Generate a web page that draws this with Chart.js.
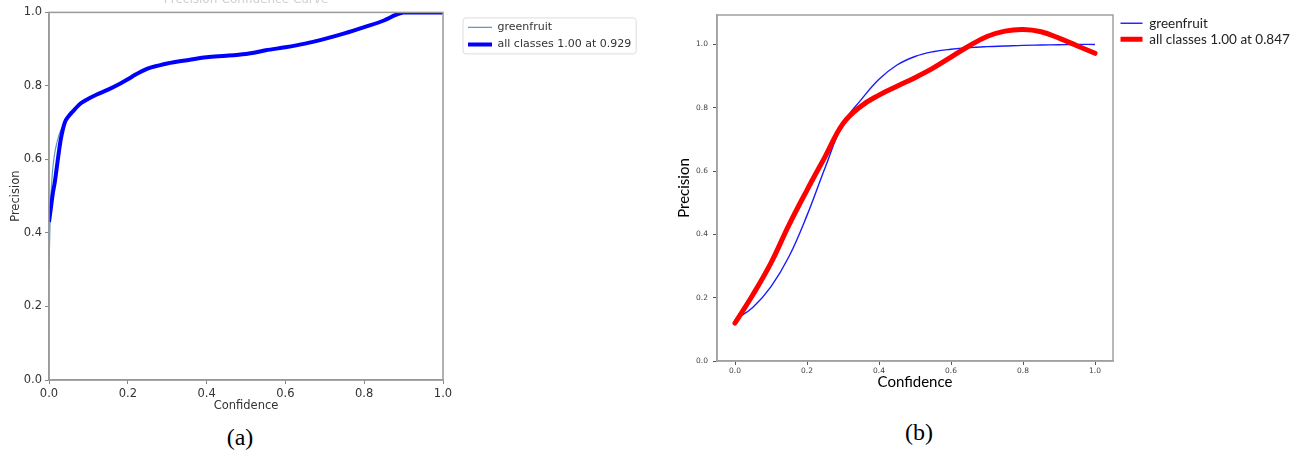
<!DOCTYPE html>
<html>
<head>
<meta charset="utf-8">
<script src="https://cdn.jsdelivr.net/npm/chart.js@4.4.0/dist/chart.umd.min.js"></script>
<style>
  body { margin: 0; background: #fff; width: 1303px; height: 450px; overflow: hidden; position: relative; }
  #wrapA { position: absolute; left: 0; top: -16px; width: 650px; height: 426px; }
  #wrapB { position: absolute; left: 660px; top: 0; width: 643px; height: 400px; }
  .cap { position: absolute; font-family: "Liberation Serif", serif; font-size: 24px; color: #000; transform: translate(-50%, -50%); }
</style>
</head>
<body>
<div id="wrapA"><canvas id="chartA" width="650" height="426"></canvas></div>
<div id="wrapB"><canvas id="chartB" width="643" height="400"></canvas></div>
<div class="cap" style="left:240px; top:437px">(a)</div>
<div class="cap" style="left:919px; top:432px">(b)</div>

<script>
// ---- panel (a) ----
var confA = [0, 0.005, 0.01, 0.015, 0.02, 0.025, 0.03, 0.04, 0.05, 0.06, 0.08, 0.1, 0.12, 0.15, 0.18, 0.2,
             0.22, 0.25, 0.28, 0.3, 0.35, 0.4, 0.45, 0.5, 0.52, 0.55, 0.6, 0.65, 0.7, 0.75, 0.8, 0.85,
             0.88, 0.9, 0.91, 0.95, 1.0];
var precA = [0.43, 0.47, 0.51, 0.54, 0.58, 0.62, 0.655, 0.70, 0.718, 0.73, 0.752, 0.765, 0.776, 0.79, 0.806, 0.818,
             0.831, 0.847, 0.856, 0.861, 0.87, 0.878, 0.882, 0.887, 0.89, 0.897, 0.905, 0.915, 0.928, 0.943, 0.96, 0.978,
             0.993, 1.0, 1.0, 1.0, 1.0];
// greenfruit only departs from "all classes" at very low confidence
var greenHeadConfA = [0, 0.002, 0.004, 0.007, 0.01, 0.015, 0.02, 0.025, 0.03, 0.04];
var greenHeadPrecA = [0.30, 0.40, 0.48, 0.54, 0.58, 0.62, 0.645, 0.665, 0.68, 0.70];
var ticksA = [0, 0.2, 0.4, 0.6, 0.8, 1.0];

// ---- panel (b) ----
var confB = [0, 0.05, 0.1, 0.15, 0.2, 0.25, 0.3, 0.35, 0.4, 0.45, 0.5, 0.55, 0.6, 0.65, 0.7, 0.75, 0.8, 0.85, 0.9, 0.95, 1.0];
var greenB = [0.13, 0.17, 0.235, 0.33, 0.46, 0.61, 0.75, 0.825, 0.89, 0.935, 0.962, 0.977, 0.985, 0.99, 0.993, 0.995, 0.997, 0.998, 0.999, 1.0, 1.0];
var allB = [0.12, 0.21, 0.31, 0.43, 0.54, 0.645, 0.75, 0.805, 0.84, 0.868, 0.895, 0.925, 0.96, 0.995, 1.025, 1.042, 1.047, 1.04, 1.02, 0.996, 0.972];
var ticksBx = [0, 0.2, 0.4, 0.6, 0.8, 1.0];
var ticksBy = [0, 0.2, 0.4, 0.6, 0.8, 1.0];

function pts(xs, ys) {
  return xs.map(function (x, i) { return { x: x, y: ys[i] }; });
}

var allA = pts(confA, precA);
var greenA = pts(greenHeadConfA, greenHeadPrecA).concat(allA.filter(function (p) { return p.x > 0.04; }));

// box round the plot, like matplotlib spines
var framePlugin = {
  id: 'frame',
  afterDatasetsDraw: function (chart, args, opts) {
    var a = chart.chartArea, ctx = chart.ctx;
    ctx.save();
    ctx.strokeStyle = opts.color;
    ctx.lineWidth = opts.width;
    ctx.strokeRect(a.left, a.top, a.right - a.left, a.bottom - a.top);
    ctx.restore();
  }
};

// nudge the legend, widen its clip and optionally draw a frame round it
var legendPlace = {
  id: 'legendPlace',
  afterLayout: function (chart, args, opts) {
    var l = chart.legend;
    l.left += opts.dx;
    l.top += opts.dy; l.bottom += opts.dy;
    l.width = 300;
    l.right = l.left + 300;
  },
  afterDraw: function (chart, args, opts) {
    if (!opts.box) return;
    var hb = chart.legend.legendHitBoxes;
    var l = Infinity, t = Infinity, r = -Infinity, b = -Infinity;
    hb.forEach(function (h) {
      l = Math.min(l, h.left); t = Math.min(t, h.top);
      r = Math.max(r, h.left + h.width); b = Math.max(b, h.top + h.height);
    });
    var ctx = chart.ctx;
    ctx.save();
    ctx.strokeStyle = '#dcdcdc';
    ctx.lineWidth = 1;
    ctx.beginPath();
    ctx.roundRect(l - 5, t - 4, r - l + 10, b - t + 8, 3);
    ctx.stroke();
    ctx.restore();
  }
};

function fixTicks(list) {
  return function (scale) { scale.ticks = list.map(function (v) { return { value: v }; }); };
}
function fmt(v) { return v.toFixed(1); }

var fontA = { family: 'DejaVu Sans', size: 11.5 };

new Chart(document.getElementById('chartA'), {
  type: 'line',
  data: {
    datasets: [{
      label: 'greenfruit',
      data: greenA,
      borderColor: 'rgb(95,150,195)',
      borderWidth: 1.2,
      order: 1
    }, {
      label: 'all classes 1.00 at 0.929',
      data: allA,
      borderColor: '#0000ff',
      borderWidth: 4,
      order: 0
    }]
  },
  options: {
    responsive: false,
    animation: false,
    devicePixelRatio: 1,
    layout: { padding: { left: 0, right: 107, top: 0, bottom: 0 } },
    elements: { point: { radius: 0 }, line: { cubicInterpolationMode: 'monotone', fill: false } },
    scales: {
      x: {
        type: 'linear', min: 0, max: 1,
        afterBuildTicks: fixTicks(ticksA),
        afterFit: function (s) { s.height = 30; },
        ticks: { font: fontA, color: '#333', padding: 3, maxRotation: 0, autoSkip: false, callback: fmt },
        grid: { drawOnChartArea: false, tickLength: 4, tickColor: '#888' },
        border: { color: '#999', width: 1.5 },
        title: { display: true, text: 'Confidence', font: fontA, color: '#333', padding: { top: 0, bottom: -3 } }
      },
      y: {
        type: 'linear', min: 0, max: 1,
        afterBuildTicks: fixTicks(ticksA),
        afterFit: function (s) { s.width = 49; },
        ticks: { font: fontA, color: '#333', padding: 3, autoSkip: false, callback: fmt },
        grid: { drawOnChartArea: false, tickLength: 4, tickColor: '#888' },
        border: { color: '#999', width: 1.5 },
        title: { display: true, text: 'Precision', font: fontA, color: '#333', padding: { top: 9, bottom: 0 } }
      }
    },
    plugins: {
      title: {
        display: true, fullSize: false, text: 'Precision-Confidence Curve', color: '#cfcfcf',
        font: { family: 'DejaVu Sans', size: 12, weight: 'normal' }, padding: { top: 9, bottom: 5 }
      },
      legend: {
        position: 'right', align: 'start', fullSize: false, maxWidth: 100,
        labels: {
          usePointStyle: true, pointStyle: 'line', pointStyleWidth: 24, boxWidth: 24,
          padding: 6, color: '#333', font: { family: 'DejaVu Sans', size: 11 },
          sort: function (a, b) { return a.datasetIndex - b.datasetIndex; }
        }
      },
      tooltip: { enabled: false },
      frame: { color: '#999', width: 1.5 },
      legendPlace: { dx: 19, dy: 3.5, box: true }
    }
  },
  plugins: [framePlugin, legendPlace]
});

var tickFontB = { family: 'DejaVu Sans', size: 7.5 };
var titleFontB = { family: 'Lato', size: 15 };

new Chart(document.getElementById('chartB'), {
  type: 'line',
  data: {
    datasets: [{
      label: 'greenfruit',
      data: pts(confB, greenB),
      borderColor: '#1a1aff',
      borderWidth: 1.4,
      order: 1
    }, {
      label: 'all classes 1.00 at 0.847',
      data: pts(confB, allB),
      borderColor: '#ff0000',
      borderWidth: 5,
      borderCapStyle: 'round',
      order: 0
    }]
  },
  options: {
    responsive: false,
    animation: false,
    devicePixelRatio: 1,
    layout: { padding: { left: 0, right: 90, top: 15, bottom: 0 } },
    elements: { point: { radius: 0 }, line: { tension: 0.4, fill: false } },
    scales: {
      x: {
        type: 'linear', min: -0.05, max: 1.05,
        afterBuildTicks: fixTicks(ticksBx),
        afterFit: function (s) { s.height = 39; },
        ticks: { font: tickFontB, color: '#444', padding: 2, maxRotation: 0, autoSkip: false, callback: fmt },
        grid: { drawOnChartArea: false, tickLength: 4, tickColor: '#555' },
        border: { color: '#a0a0a0', width: 1.5 },
        title: { display: true, text: 'Confidence', font: titleFontB, color: '#000', padding: { top: 0, bottom: 8.5 } }
      },
      y: {
        type: 'linear', min: 0, max: 1.093,
        afterBuildTicks: fixTicks(ticksBy),
        afterFit: function (s) { s.width = 57; },
        ticks: { font: tickFontB, color: '#444', padding: 5, autoSkip: false, callback: fmt },
        grid: { drawOnChartArea: false, tickLength: 4, tickColor: '#555' },
        border: { color: '#a0a0a0', width: 1.5 },
        title: { display: true, text: 'Precision', font: titleFontB, color: '#000', padding: { top: 15, bottom: 0 } }
      }
    },
    plugins: {
      title: { display: false },
      legend: {
        position: 'right', align: 'start', fullSize: false, maxWidth: 100,
        labels: {
          usePointStyle: true, pointStyle: 'line', pointStyleWidth: 22, boxWidth: 22,
          padding: 2.5, color: '#222', font: { family: 'Lato', size: 13.5 },
          sort: function (a, b) { return a.datasetIndex - b.datasetIndex; }
        }
      },
      tooltip: { enabled: false },
      frame: { color: '#a0a0a0', width: 1.5 },
      legendPlace: { dx: 5, dy: -1, box: false }
    }
  },
  plugins: [framePlugin, legendPlace]
});
</script>
</body>
</html>
